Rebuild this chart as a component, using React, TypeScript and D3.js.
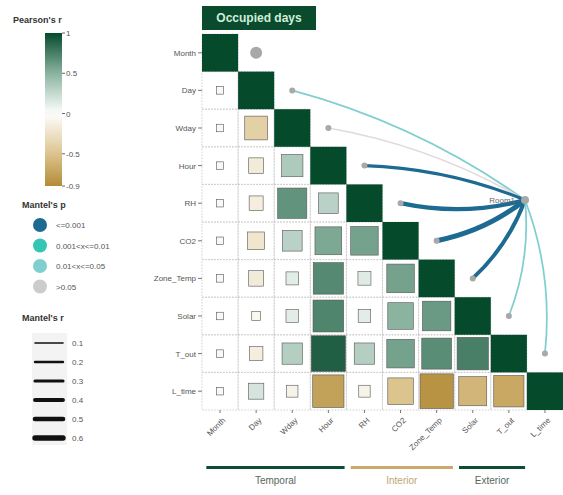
import * as d3 from 'd3';
import React from 'react';

// variables on both axes of the matrix
const vars = ['Month', 'Day', 'Wday', 'Hour', 'RH', 'CO2', 'Zone_Temp', 'Solar', 'T_out', 'L_time'];

// lower triangle of Pearson's r, row by row (last value of each row is the diagonal)
const corrRows: number[][] = [
  [1],
  [0.04, 1],
  [0.04, -0.4, 1],
  [0.04, -0.17, 0.35, 1],
  [0.04, -0.15, 0.65, 0.3, 1],
  [0.04, -0.22, 0.3, 0.55, 0.58, 1],
  [0.04, -0.17, 0.12, 0.7, 0.13, 0.58, 1],
  [0.04, -0.06, 0.12, 0.72, 0.12, 0.5, 0.62, 1],
  [0.04, -0.14, 0.32, 0.9, 0.32, 0.58, 0.68, 0.75, 1],
  [0.04, 0.18, -0.1, -0.75, -0.1, -0.5, -0.85, -0.6, -0.7, 1],
];

// mantel test: Room1 against each variable
const linkVars = ['Month', 'Day', 'Wday', 'Hour', 'RH', 'CO2', 'Zone_Temp', 'Solar', 'T_out'];
const linkR = [0, 0.12, 0.06, 0.3, 0.45, 0.55, 0.4, 0.12, 0.12];
const linkP = ['>0.05', '0.01<x<=0.05', '>0.05', '<=0.001', '<=0.001', '<=0.001', '<=0.001', '0.01<x<=0.05', '0.01<x<=0.05'];

const pClasses = ['<=0.001', '0.001<x<=0.01', '0.01<x<=0.05', '>0.05'];
const pColors = ['#1d6a92', '#33c6b2', '#80cfcf', '#cccccc'];
const rBreaks = [0.1, 0.2, 0.3, 0.4, 0.5, 0.6];
const colorTicks = [1, 0.5, 0, -0.5, -0.9];

const groups = [
  { name: 'Temporal', from: 'Month', to: 'Hour', color: '#0d4d33', text: '#55685e' },
  { name: 'Interior', from: 'RH', to: 'Zone_Temp', color: '#c9aa6a', text: '#c2a56f' },
  { name: 'Exterior', from: 'Solar', to: 'T_out', color: '#0d4d33', text: '#55685e' },
];

const W = 563;
const H = 495;
const FONT = 'Liberation Sans, Arial, sans-serif';

const App: React.FC = () => {
  const x = d3.scaleBand().domain(vars).range([202, 563]).padding(0);
  const y = d3.scaleBand().domain(vars).range([34, 410]).padding(0);
  const bw = x.bandwidth();
  const bh = y.bandwidth();

  const fill = d3
    .scaleLinear<string>()
    .domain([-0.9, -0.5, 0, 0.5, 1])
    .range(['#b38c38', '#dcc48e', '#ffffff', '#8ab3a0', '#064a2c']);

  const barY = d3.scaleLinear().domain([1, -0.9]).range([33, 186]);
  const lw = d3.scaleLinear().domain([0.1, 0.6]).range([1.6, 5.4]).clamp(true);
  const pColor = d3.scaleOrdinal<string, string>().domain(pClasses).range(pColors);

  const node = { x: 525, y: 200 };

  const cells: { row: string; col: string; r: number }[] = [];
  corrRows.forEach((row, i) => row.forEach((r, j) => cells.push({ row: vars[i], col: vars[j], r })));

  const links = linkVars.map((v, i) => {
    const idx = vars.indexOf(v);
    const ex = (x(vars[idx + 1]) ?? 0) + bw / 2;
    const ey = (y(v) ?? 0) + bh / 2;
    // curve from node to the variable; bend side flips above / below the node
    const dx = ex - node.x;
    const dy = ey - node.y;
    const k = ey < node.y ? 0.09 : -0.12;
    const cx = (node.x + ex) / 2 - dy * k;
    const cy = (node.y + ey) / 2 + dx * k;
    return { v, ex, ey, r: linkR[i], p: linkP[i], d: `M${node.x},${node.y} Q${cx},${cy} ${ex},${ey}`, i };
  });

  const gradStops = d3.range(0, 1.0001, 0.05).map((t) => ({ t, c: fill(1 - t * 1.9) }));

  return (
    <svg width={W} height={H} style={{ display: 'block', position: 'absolute', left: 0, top: 0 }} fontFamily={FONT}>
      <defs>
        <linearGradient id="pearson" x1="0" y1="0" x2="0" y2="1">
          {gradStops.map((s) => (
            <stop key={s.t} offset={s.t} stopColor={s.c} />
          ))}
        </linearGradient>
      </defs>
      <rect width={W} height={H} fill="#fff" />

      {/* Pearson's r colour bar */}
      <text x={13} y={23} fontSize={9} fontWeight="bold" fill="#333">Pearson's r</text>
      <rect x={45} y={33} width={17} height={153} fill="url(#pearson)" />
      {colorTicks.map((t) => (
        <g key={t}>
          <line x1={62} x2={65} y1={barY(t)} y2={barY(t)} stroke="#666" />
          <text x={66} y={barY(t) + 3} fontSize={8} fill="#555">{t}</text>
        </g>
      ))}

      {/* Mantel's p */}
      <text x={22} y={208} fontSize={9} fontWeight="bold" fill="#333">Mantel's p</text>
      {pClasses.map((p, i) => (
        <g key={p}>
          <circle cx={40} cy={225 + i * 20.5} r={7} fill={pColors[i]} />
          <text x={56} y={228 + i * 20.5} fontSize={8} fill="#555">{p}</text>
        </g>
      ))}

      {/* Mantel's r */}
      <text x={22} y={321} fontSize={9} fontWeight="bold" fill="#333">Mantel's r</text>
      <rect x={32} y={333} width={35} height={112} fill="#f3f3f3" />
      {rBreaks.map((r, i) => (
        <g key={r}>
          <line x1={35} x2={63} y1={343 + i * 19} y2={343 + i * 19} stroke="#111" strokeWidth={lw(r)} strokeLinecap="round" />
          <text x={72} y={346 + i * 19} fontSize={8} fill="#555">{r}</text>
        </g>
      ))}

      {/* title strip */}
      <rect x={202} y={6} width={114} height={24} fill="#0a4a2d" />
      <text x={259} y={22} fontSize={12} fontWeight="bold" fill="#cfeedb" textAnchor="middle">Occupied days</text>

      {/* grid of the lower triangle */}
      {cells.map((c) => (
        <rect
          key={`g-${c.row}-${c.col}`}
          x={x(c.col)}
          y={y(c.row)}
          width={bw}
          height={bh}
          fill="none"
          stroke="#c4c4c4"
          strokeWidth={0.8}
          strokeDasharray="1.5 1.5"
        />
      ))}

      {/* squares */}
      {cells.map((c) => {
        const s = Math.sqrt(Math.abs(c.r));
        const w = bw * s;
        const h = bh * s;
        const cx = (x(c.col) ?? 0) + bw / 2;
        const cy = (y(c.row) ?? 0) + bh / 2;
        return (
          <rect
            key={`s-${c.row}-${c.col}`}
            x={cx - w / 2}
            y={cy - h / 2}
            width={w}
            height={h}
            fill={fill(c.r)}
            stroke={c.r === 1 ? 'none' : '#555'}
            strokeWidth={0.6}
          />
        );
      })}

      {/* axes */}
      {vars.map((v) => {
        const cy = (y(v) ?? 0) + bh / 2;
        const cx = (x(v) ?? 0) + bw / 2;
        return (
          <g key={`ax-${v}`} fontSize={8} fill="#555">
            <line x1={198} x2={202} y1={cy} y2={cy} stroke="#777" />
            <text x={196} y={cy + 3} textAnchor="end">{v}</text>
            <line x1={cx} x2={cx} y1={410} y2={413} stroke="#777" />
            <text transform={`translate(${cx + 3},${418}) rotate(-45)`} textAnchor="end" dy="0.5em">{v}</text>
          </g>
        );
      })}

      {/* mantel links */}
      {links.map((l) =>
        l.r > 0 ? (
          <path
            key={`l-${l.v}`}
            d={l.d}
            fill="none"
            stroke={l.p === '>0.05' ? '#e2dadd' : pColor(l.p)}
            strokeWidth={lw(l.r)}
            strokeLinecap="round"
          />
        ) : null
      )}
      {links.map((l) => (
        <circle key={`e-${l.v}`} cx={l.ex} cy={l.ey} r={l.i === 0 ? 6 : 3} fill="#a8a8a8" />
      ))}
      <circle cx={node.x} cy={node.y} r={4} fill="#a8a8a8" />
      <text x={node.x - 10} y={node.y + 3} fontSize={8} fill="#666" textAnchor="end">Room1</text>

      {/* variable groups */}
      {groups.map((g) => {
        const x0 = (x(g.from) ?? 0) + bw * 0.12;
        const x1 = (x(g.to) ?? 0) + bw * 0.95;
        return (
          <g key={g.name}>
            <rect x={x0} y={466} width={x1 - x0} height={3} fill={g.color} />
            <text x={(x0 + x1) / 2} y={484} fontSize={10} fill={g.text} textAnchor="middle">{g.name}</text>
          </g>
        );
      })}
    </svg>
  );
};

export default App;
